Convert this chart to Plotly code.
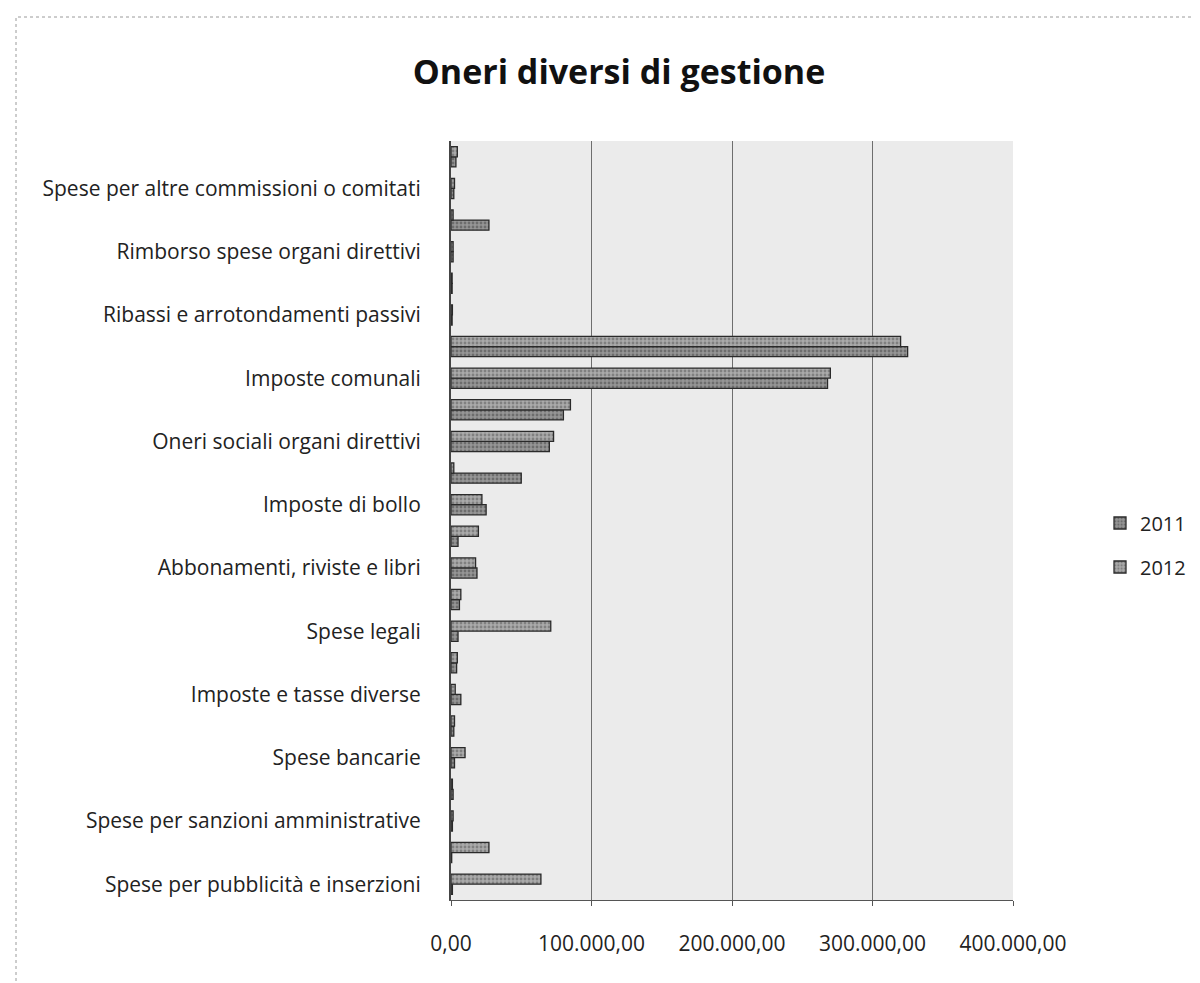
import plotly.graph_objects as go

# Visible category labels (every other category is labelled, bottom to top)
labels = [
    "Spese per pubblicità e inserzioni",
    "Spese per sanzioni amministrative",
    "Spese bancarie",
    "Imposte e tasse diverse",
    "Spese legali",
    "Abbonamenti, riviste e libri",
    "Imposte di bollo",
    "Oneri sociali organi direttivi",
    "Imposte comunali",
    "Ribassi e arrotondamenti passivi",
    "Rimborso spese organi direttivi",
    "Spese per altre commissioni o comitati",
]
# 24 category positions, bottom to top
positions = list(range(24))
label_positions = list(range(0, 24, 2))

values_2011 = [1000, 500, 1000, 1500, 2500, 2000, 7000, 4000, 5000, 6000,
               18500, 5000, 25000, 50000, 70000, 80000, 268000, 325000,
               800, 800, 1500, 27000, 2000, 3500]
values_2012 = [64000, 27000, 1500, 1000, 10000, 2500, 3000, 4500, 71000, 7000,
               17500, 19500, 22000, 2000, 73000, 85000, 270000, 320000,
               1000, 800, 1500, 1500, 2500, 4500]

x_ticks = [0, 100000, 200000, 300000, 400000]

FONT = "Open Sans"

fig = go.Figure()
fig.add_trace(go.Bar(
    y=positions, x=values_2011, orientation="h", name="2011",
    legendgroup="a",
    marker=dict(color="#7d7d7d", line=dict(color="#2a2a2a", width=1.3),
                pattern=dict(shape=".", fgcolor="#444444", bgcolor="#969696", size=4, solidity=0.4)),
))
fig.add_trace(go.Bar(
    y=positions, x=values_2012, orientation="h", name="2012",
    legendgroup="b",
    marker=dict(color="#8f8f8f", line=dict(color="#2a2a2a", width=1.3),
                pattern=dict(shape=".", fgcolor="#555555", bgcolor="#aaaaaa", size=4, solidity=0.4)),
))

L, R, T, B = 443, 195, 133, 91
W, H = 1200, 983
pw, ph = W - L - R, H - T - B

def px_x(p):
    return (p - L) / pw

def px_y(p):
    return (H - B - p) / ph

fig.update_layout(
    width=W, height=H,
    margin=dict(l=L, r=R, t=T, b=B, autoexpand=False),
    paper_bgcolor="white",
    plot_bgcolor="#ebebeb",
    separators=",.",
    barmode="group",
    bargap=0.36,
    bargroupgap=0.0,
    font=dict(family=FONT, color="#1a1a1a"),
    title=dict(text="<b>Oneri diversi di gestione</b>", x=px_x(611), xanchor="center",
               xref="paper", y=1 - 64 / H, yanchor="middle",
               font=dict(family=FONT, size=34, color="#111111")),
    xaxis=dict(range=[0, 400000], tickvals=x_ticks, tickformat=",.2f",
               showgrid=True, gridcolor="#6e6e6e", gridwidth=1.2,
               zeroline=False, showline=True, linecolor="#555555",
               ticks="outside", ticklen=5, tickcolor="#555555",
               ticklabelstandoff=20,
               tickfont=dict(family=FONT, size=21, color="#222222")),
    yaxis=dict(range=[-0.5, 23.5], tickvals=label_positions, ticktext=labels,
               showgrid=False, zeroline=False, showline=True,
               linecolor="#444444", linewidth=2, ticks="",
               ticklabelstandoff=24,
               tickfont=dict(family=FONT, size=21, color="#222222")),
    legend=dict(x=px_x(1092), xanchor="left", y=px_y(537), yanchor="middle",
                traceorder="grouped", tracegroupgap=15,
                font=dict(family=FONT, size=20, color="#222222"),
                itemwidth=30, bgcolor="rgba(0,0,0,0)"),
    shapes=[dict(type="rect", xref="paper", yref="paper",
                 x0=px_x(8), x1=px_x(1230), y0=px_y(978), y1=px_y(9),
                 line=dict(color="#9a9a9a", width=1, dash="dot"), layer="below")],
)

fig.write_html("out.html")
